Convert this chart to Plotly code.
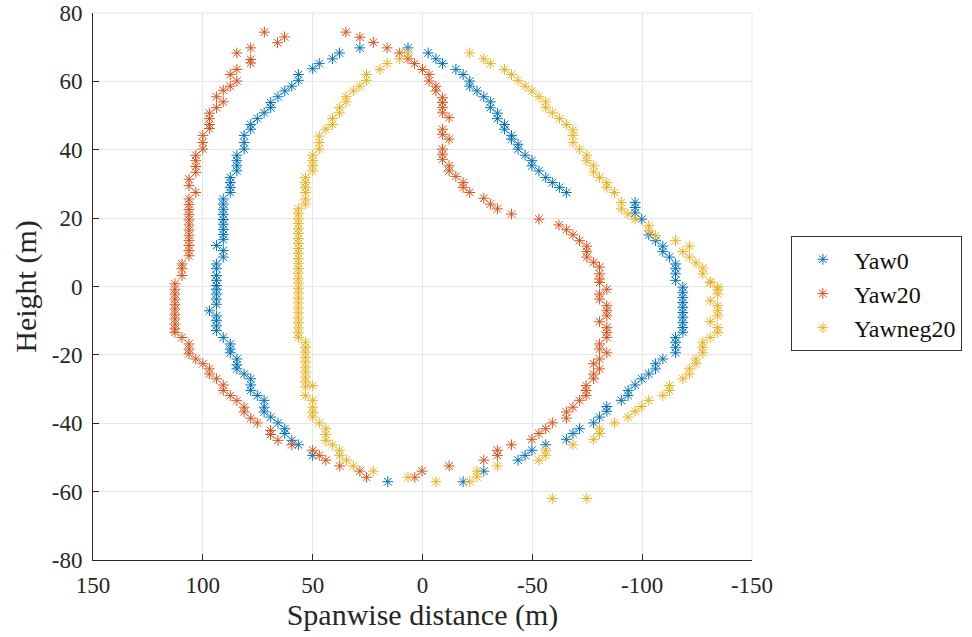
import plotly.graph_objects as go

# Yaw0 wake boundary (spanwise distance, height) in metres
yaw0_x = [6.6, 28.5, 37.8, 41, 47, 50, 56.5, 56.5, 59.5, 62.7, 65.8, 69.1, 69.1, 72.1, 75.2, 78.2, 78.2,
          81.2, 81.2, 81.2, 84.5, 84.5, 84.5, 84.5, 87.5, 87.5, 87.5, 87.5, 90.7,
          90.7, 90.7, 90.7, 90.7, 90.7, 90.7, 90.7, 90.7, 93.8, 90.7, 90.7,
          93.8, 93.8, 93.8, 93.8, 93.8, 93.8, 93.8, 93.8, 93.8, 97, 93.8, 93.8, 93.8, 93.8,
          90.7, 87.5, 87.5, 87.5, 84.5, 84.5, 84.5, 81.2, 78.2, 78.2, 78.2, 75.2, 72.1, 72.1, 72.1,
          69.1, 65.8, 62.7, 62.7, 59.5, 56.5, 50, 15.8,
          -18.5, -27.9, -43.5, -46.7, -49.8, -56.1, -65.5, -68.5, -71.5, -77.9, -80.6, -83.9, -83.9,
          -90.5, -93.6, -93.6, -96.8, -99.8, -103, -106.1, -106.1, -109.4, -115.2, -115.2, -115.2,
          -115.2, -118.5, -118.5, -118.5, -118.5, -118.5, -118.5, -118.5, -118.5, -118.5, -118.5,
          -115.2, -115.2, -115.2, -115.2, -112.4, -109.4, -109.4, -106.1, -103, -99.8, -96.8, -96.8, -96.8,
          -65.5, -62.4, -59.1, -56.1, -53, -49.8, -49.8, -46.7, -43.5, -43.5, -40.5, -40.5, -37.3, -37.3,
          -34.1, -34.1, -30.9, -30.9, -27.9, -24.8, -21.5, -21.5, -18.5, -15.2, -9.1, -6.1, -2.6]
yaw0_y = [69.8, 69.8, 68.3, 66.6, 65.2, 63.7, 62, 60.3, 58.6, 57.2, 55.5, 53.8, 52.3, 50.8, 49.1, 47.4, 46,
          44.2, 42.1, 40.2, 38.4, 36.8, 35.3, 33.8, 31.9, 30.4, 29, 27.5, 25.6,
          24.1, 22.6, 21.1, 19.6, 18.2, 16.7, 15.2, 13.7, 12, 10.5, 8.6,
          6.6, 5.2, 3.2, 1.8, 0.3, -0.8, -2.2, -3.7, -5.2, -7.1, -8.6, -10, -11.5, -12.9,
          -14.9, -16.8, -18.3, -19.4, -21.2, -22.9, -24.1, -25.6, -27, -28.8, -30.4, -31.9, -33.3, -35.3, -36.7,
          -38.2, -39.9, -41.6, -43, -45, -46.3, -49.4, -57.1,
          -57.1, -54, -50.8, -49.4, -47.9, -46.3, -44.7, -43, -41.6, -39.9, -38.2, -36.5, -35.1,
          -33.3, -31.9, -30.4, -28.8, -27, -25.6, -24.1, -22.6, -21.2, -19.4, -17.8, -16.3,
          -14.9, -13.4, -12, -10.5, -9, -7.6, -6.1, -4.7, -3.2, -1.7, -0.2,
          1.8, 3.7, 5.2, 6.6, 8.6, 10.2, 11.8, 13.4, 15.1, 19.7, 21.5, 23.1, 24.6,
          27.5, 29, 30.4, 31.9, 33.8, 35.3, 36.8, 38.4, 40.2, 41.6, 43.1, 44.2, 46, 47.4,
          49.1, 50.7, 52.3, 54, 55.5, 57.2, 58.6, 60.1, 62, 63.5, 65.2, 66.6, 68.3]

# Yaw20 wake boundary
yaw20_x = [72, 62.8, 66, 78.2, 84.5, 78.2, 78.2, 84.5, 87.5, 84.5, 87.5, 90.7, 93.8, 90.7, 93.8, 97, 97, 97, 97,
           100, 100, 100, 103.2, 103.2, 103.2, 103.2, 106.3, 106.3, 103.2, 106.3,
           106.3, 106.3, 106.3, 106.3, 106.3, 106.3, 106.3, 106.3, 106.3, 106.3, 106.3,
           109.5, 109.5, 109.5, 112.7,
           112.7, 112.7, 112.7, 112.7, 112.7, 112.7, 112.7, 112.7, 112.7, 112.7,
           109.5, 106.3, 106.3, 106.3, 103.2, 100, 97, 97, 93.8, 90.7, 90.7, 87.5, 84.5, 81.2, 81.2,
           78.2, 75.2, 69.2, 69.2, 65.8, 59.5, 50, 47, 44, 37.7, 28.5, 25.5, 3.5, 0.2,
           -12.1, -27.9, -34.1, -34.1, -40.5, -49.8, -53, -56.1, -59.1, -65.5, -65.5, -68.5, -71.5,
           -74.5, -74.5, -74.5, -77.9, -77.9, -80.6, -77.9, -80.6, -83.9, -80.6, -80.6, -83.9, -83.9,
           -83.9, -80.6, -83.9, -83.9, -83.9, -80.6, -80.6, -83.9, -80.6,
           -80.6, -80.6, -80.6, -77.9, -74.8, -74.8, -74.8, -71.5, -68.5, -65.5, -62.1, -53, -40.5,
           -34.1, -30.9, -27.9, -21.5, -18.5, -18.5, -15.2, -12.1, -12.1, -9.1, -9.1, -9.1, -12.1,
           -9.1, -9.1, -12.1, -9.1, -9.1, -9.1, -9.1, -6.1, -6.1, -3, -3, 0, 3.6, 6.6, 10.4, 16.1,
           22.4, 28.5, 34.9]
yaw20_y = [74.4, 73, 71.3, 69.8, 68.3, 66.4, 65.4, 63.5, 62, 60.1, 58.6, 57.4, 55.5, 54, 52.3, 50.7, 49.1, 47.4, 46.2,
           44.2, 42.1, 40.2, 38.4, 36.8, 35.1, 33.4, 31.4, 29.5, 27.5, 25.6,
           24, 22.5, 21, 19.5, 18, 16.5, 15, 13.5, 12, 10.5, 9,
           6.6, 5.2, 3.2, 0.8,
           -0.8, -2.2, -3.7, -5.2, -6.6, -8.1, -9.5, -11, -12.4, -13.4,
           -14.9, -16.8, -18.3, -19.7, -21.2, -22.6, -24.1, -25.6, -27, -28.8, -30.4, -31.9, -33.4, -35.3, -36.7,
           -38.5, -39.9, -42.1, -43.3, -45, -46.3, -47.9, -49.4, -50.8, -52.5, -54, -55.8, -55.8, -54,
           -52.5, -50.8, -49.4, -47.9, -46.3, -44.7, -43, -41.6, -39.9, -38.5, -36.7, -35.3, -33.3,
           -31.9, -30.4, -29, -27, -25.6, -24.1, -22.6, -21.2, -19.4, -18.3, -16.8, -14.9, -13.4,
           -11.95, -10.3, -8.6, -7.1, -5.6, -3.7, -2.2, -0.8, 1.2,
           2.2, 3.7, 5.7, 7.1, 8.6, 10.2, 11.8, 13.4, 15.1, 16.6, 18, 19.7, 21.2,
           22.7, 24.1, 25.8, 27.5, 29, 30.4, 32.2, 33.8, 35.3, 37.2, 38.7, 40.2, 43.1,
           44.5, 46, 49.4, 50.8, 52.3, 53.8, 55.2, 57.2, 58.6, 60.1, 62, 63.5, 65.2, 66.6, 68.3, 69.8,
           71.4, 72.9, 74.4]

# Yawneg20 wake boundary
yawneg20_x = [6.6, 10.4, 16.1, 19.4, 25.5, 25.5, 28.5, 31.5, 34.8, 34.8, 37.8, 37.8, 41, 41, 44, 47, 47, 47,
              50, 50, 50, 50, 53.3, 53.3, 53.3, 53.3, 53.3, 53.3,
              56.5, 56.5, 56.5, 56.5, 56.5, 56.5, 56.5, 56.5, 56.5, 56.5, 56.5, 56.5, 56.5, 56.5, 56.5,
              56.5, 56.5, 56.5, 56.5, 56.5, 56.5, 56.5, 56.5, 56.5, 56.5, 56.5, 56.5,
              53.3, 53.3, 53.3, 53.3, 53.3, 53.3, 53.3, 53.3, 53.3, 53.3, 53.3, 50,
              50, 50, 50, 50, 47, 44, 44, 44, 41, 37.8, 37.8, 34.6, 31.5, 22.4, 6.6,
              -6.1, -21.5, -24.8, -24.8, -34.1, -53, -56.1, -56.1, -68.5, -77.9, -80.6, -80.6, -87.4,
              -93.5, -96.8, -99.8, -103, -109.4, -112.4, -112.4, -118.5, -121.5, -121.5, -124.5, -124.5,
              -127.6, -127.6, -127.6, -131, -134.4, -134.4, -131, -134.4, -134.4, -134.4, -131, -134.4,
              -134.4, -131, -59.1, -74.8,
              -134.4, -131, -127.6, -127.6, -124.5, -121.5, -118.5, -121.5, -115.2, -106.1, -103, -103,
              -96.8, -93.5, -90.5, -90.5, -87.4, -83.9, -83.9, -80.6, -77.9, -77.9, -74.8, -74.8, -71.5,
              -68.5, -68.5, -68.5, -65.5, -62.4, -59.1, -56.1, -56.1, -53, -49.8, -46.7, -43.5, -40.5,
              -37.3, -30.9, -27.9, -21.5]
yawneg20_y = [68.3, 66.6, 65.2, 63.5, 62, 60.3, 58.6, 57.2, 55.5, 54, 52.3, 50.8, 49.1, 47.4, 46, 44, 42.1, 40.2,
              38.4, 36.8, 35.3, 33.8, 31.9, 30.4, 29, 27.5, 25.6, 24.1,
              22.7, 21.3, 19.8, 18.4, 16.9, 15.5, 14, 12.6, 11.1, 9.7, 8.2, 6.8, 5.3, 3.9, 2.4,
              1, -0.5, -1.9, -3.4, -4.8, -6.3, -7.7, -9.2, -10.6, -12.1, -13.5, -14.9,
              -16.3, -17.8, -19.2, -20.7, -22.1, -23.6, -25, -26.5, -27.9, -29.4, -31.9, -29,
              -33.3, -35.3, -36.8, -38.2, -39.9, -41.6, -43.3, -45, -46.3, -47.9, -49.4, -50.8, -52.5, -54, -55.8,
              -57.1, -57.1, -55.7, -54, -52.5, -50.8, -49.4, -47.9, -46.3, -44.7, -43, -41.6, -39.9,
              -38.2, -36.5, -35.1, -33.3, -31.9, -30.4, -29, -27, -25.6, -24.1, -22.6, -21.2,
              -19.4, -17.8, -16.3, -14.9, -13.4, -12, -10.3, -8.6, -7.1, -5.6, -4.2, -2.2,
              -0.8, 1.2, -62, -62,
              -0.2, 1.3, 3.7, 5.4, 6.9, 8.6, 10.2, 11.8, 13.4, 14.9, 16.3, 17.8,
              19.7, 21.2, 22.7, 24.6, 27.5, 29, 30.4, 31.9, 33.5, 35.3, 36.8, 38.4, 40.2,
              42.1, 44.2, 45.8, 47.4, 49.1, 50.8, 52.3, 54, 55.5, 57.2, 58.6, 60.3, 62,
              63.5, 65.2, 66.6, 68.3]

# Tick positions and their printed labels (plain hyphen for negatives)
x_ticks = [150, 100, 50, 0, -50, -100, -150]
y_ticks = [-80, -60, -40, -20, 0, 20, 40, 60, 80]

series = [
    ("Yaw0", yaw0_x, yaw0_y, "#0072BD"),
    ("Yaw20", yaw20_x, yaw20_y, "#D95319"),
    ("Yawneg20", yawneg20_x, yawneg20_y, "#EDB120"),
]

FONT = "Liberation Serif"
INK = "#262626"

fig = go.Figure()
for name, xs, ys, color in series:
    fig.add_trace(go.Scatter(
        x=xs, y=ys, mode="markers", name=name,
        marker=dict(symbol="asterisk-open", size=9, color=color,
                    line=dict(color=color, width=1)),
    ))

axis_common = dict(
    showgrid=True, gridcolor="#e6e6e6", gridwidth=1,
    zeroline=False, showline=True, linecolor=INK, linewidth=1,
    ticks="inside", ticklen=6, tickcolor=INK,
    tickfont=dict(family=FONT, size=23, color=INK),
    mirror=False,
)

fig.update_xaxes(range=[150, -150], tickvals=x_ticks, ticktext=[str(v) for v in x_ticks],
                 ticklabelstandoff=4,
                 title=dict(text="Spanwise distance (m)", font=dict(family=FONT, size=30, color=INK),
                            standoff=6),
                 **axis_common)
fig.update_yaxes(range=[-80, 80], tickvals=y_ticks, ticktext=[str(v) for v in y_ticks],
                 ticklabelstandoff=5,
                 title=dict(text="Height (m)", font=dict(family=FONT, size=30, color=INK),
                            standoff=6),
                 **axis_common)

# light frame along the top and right edges of the axes
fig.add_shape(type="line", xref="paper", yref="paper", x0=0, x1=1, y0=1, y1=1,
              line=dict(color="#e6e6e6", width=1))
fig.add_shape(type="line", xref="paper", yref="paper", x0=1, x1=1, y0=0, y1=1,
              line=dict(color="#e6e6e6", width=1))

fig.update_layout(
    width=972, height=637,
    margin=dict(l=93, r=220, t=13, b=77, autoexpand=False),
    paper_bgcolor="white", plot_bgcolor="white",
    font=dict(family=FONT, color=INK),
    legend=dict(
        x=1.059, y=0.592, xanchor="left", yanchor="top",
        bgcolor="white", bordercolor="#333333", borderwidth=1,
        font=dict(family=FONT, size=24, color="#111111"),
        itemwidth=52, tracegroupgap=0,
    ),
    showlegend=True,
)

fig.write_html("out.html")
